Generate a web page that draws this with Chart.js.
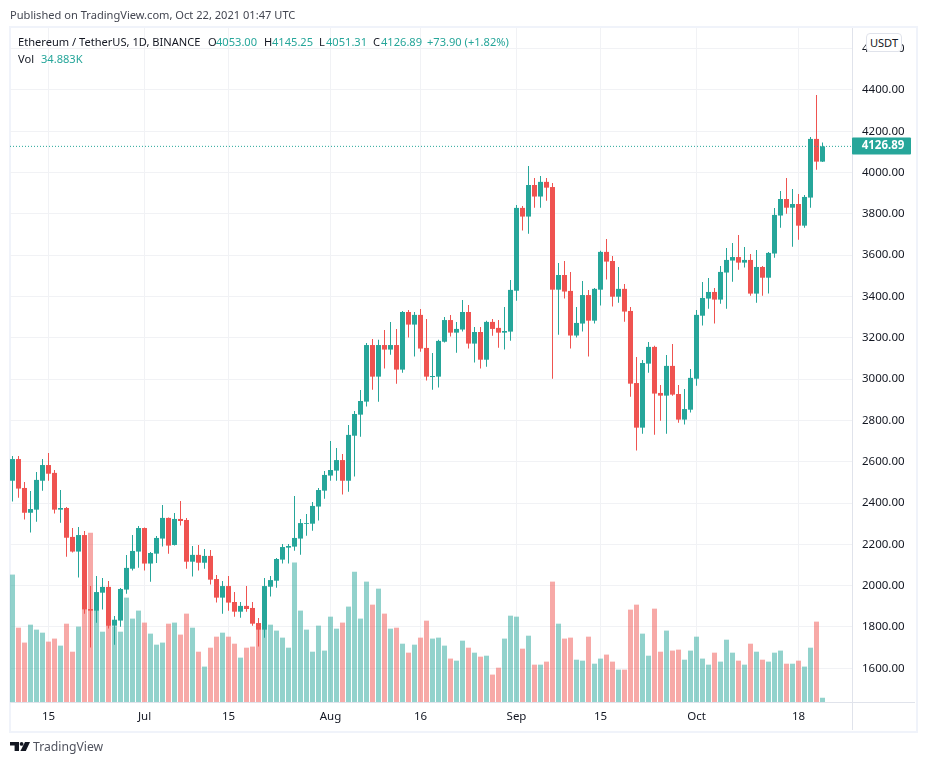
<!DOCTYPE html>
<html lang="en">
<head>
    <meta charset="UTF-8">
    <title>Ethereum / TetherUS - TradingView</title>
    <script src="https://cdn.jsdelivr.net/npm/chart.js"></script>
    <style>
        html, body { margin: 0; padding: 0; background: #fff; }
        body { width: 926px; height: 765px; position: relative; overflow: hidden; font-family: "Noto Sans", sans-serif; font-size: 11.1px; color: #434651; }
        canvas { position: absolute; left: 0; top: 0; }
        .frame { position: absolute; left: 9px; top: 26px; width: 905px; height: 703px; border: 2px solid #f0f3fa; }
        .t { position: absolute; white-space: nowrap; line-height: 16px; }
        .g { color: #26a69a; }
        .usdt { position: absolute; left: 866px; top: 33px; width: 34px; height: 17px; line-height: 17px; text-align: center; background: #fff; border: 1px solid #e0e3eb; border-radius: 4px; color: #131722; font-size: 11.1px; }
        .logo { position: absolute; left: 10px; top: 742px; }
        .brand { position: absolute; left: 33px; top: 738px; font-size: 12.2px; line-height: 18px; color: #50535e; }
    </style>
</head>
<body>
    <div class="frame"></div>
    <canvas id="ethChart" width="926" height="765"></canvas>

    <div class="t" style="left:10px;top:7px">Published on TradingView.com, Oct 22, 2021 01:47 UTC</div>
    <div class="t" style="left:18px;top:34px;color:#131722">Ethereum / TetherUS, 1D, BINANCE</div>
    <div class="t" style="left:208px;top:34px;color:#131722">O</div><div class="t g" style="left:216px;top:34px">4053.00</div>
    <div class="t" style="left:264px;top:34px;color:#131722">H</div><div class="t g" style="left:272px;top:34px">4145.25</div>
    <div class="t" style="left:319px;top:34px;color:#131722">L</div><div class="t g" style="left:326px;top:34px">4051.31</div>
    <div class="t" style="left:373px;top:34px;color:#131722">C</div><div class="t g" style="left:381px;top:34px">4126.89</div>
    <div class="t g" style="left:427px;top:34px">+73.90 (+1.82%)</div>
    <div class="t" style="left:18px;top:51px;color:#131722">Vol</div><div class="t g" style="left:41px;top:51px">34.883K</div>
    <div class="usdt">USDT</div>

    <svg class="logo" width="20" height="10" viewBox="0 0 20 10">
        <path fill="#131722" d="M0 0h9v9H4.6V3.6H0z"/>
        <circle fill="#131722" cx="11.6" cy="1.9" r="1.9"/>
        <path fill="#131722" d="M15 0h5l-4.2 9H10.4z"/>
    </svg>
    <div class="brand">TradingView</div>

    <script>
        // daily candles, Jun 9 to Oct 22 2021
        const opens = [2508,2613,2473,2353,2368,2508,2584,2546,2368,2376,2236,2165,2245,1887,1879,1966,1994,1806,1831,1981,2082,2165,2279,2107,2155,2228,2328,2197,2323,2318,2116,2149,2111,2144,2032,1942,1998,1921,1874,1902,1892,1819,1787,1995,2024,2126,2184,2189,2228,2299,2300,2383,2460,2533,2557,2608,2508,2726,2828,2891,3165,3012,3165,3143,3165,3046,3325,3264,3311,3151,3010,3012,3181,3286,3225,3240,3325,3172,3228,3094,3277,3248,3225,3230,3428,3829,3787,3940,3884,3955,3930,3433,3504,3427,3211,3269,3407,3283,3433,3616,3572,3399,3437,3330,2981,2765,3075,3156,2933,2920,3064,2928,2804,2852,3002,3307,3390,3422,3385,3516,3574,3591,3564,3577,3414,3543,3491,3608,3792,3872,3830,3848,3743,3879,4163,4053];
        const highs = [2628,2628,2502,2458,2550,2613,2642,2560,2463,2381,2279,2284,2265,1998,2047,2037,2023,1853,1989,2149,2245,2289,2282,2163,2240,2391,2330,2352,2410,2328,2192,2197,2178,2173,2052,2023,2047,1969,1921,1998,1921,1843,2037,2047,2134,2202,2202,2434,2323,2347,2405,2473,2555,2700,2667,2638,2778,2846,2947,3175,3194,3190,3238,3277,3243,3330,3335,3325,3340,3291,3127,3190,3301,3311,3277,3383,3359,3252,3252,3282,3291,3286,3349,3480,3843,3838,4032,3974,3984,3974,3950,3562,3572,3519,3349,3475,3432,3441,3621,3679,3596,3543,3461,3349,3107,3093,3180,3161,2972,3117,3170,2972,2952,3049,3335,3470,3490,3441,3548,3635,3659,3698,3640,3606,3625,3548,3616,3829,3911,3974,3921,3896,3892,4172,4376,4145.25];
        const lows = [2407,2426,2320,2257,2310,2460,2508,2349,2305,2140,2160,2039,1864,1700,1821,1884,1792,1714,1801,1961,2073,2087,2073,2019,2110,2189,2155,2194,2291,2082,2044,2073,2082,2005,1918,1864,1879,1850,1845,1874,1806,1705,1748,1947,1990,2107,2107,2169,2150,2242,2266,2315,2421,2508,2508,2441,2455,2528,2721,2867,2949,2891,3051,3118,2978,3031,3201,3109,3133,2993,2949,2959,3177,3206,3128,3230,3148,3080,3051,3060,3210,3152,3143,3186,3380,3719,3704,3830,3830,3864,3002,3215,3390,3148,3201,3230,3109,3269,3356,3482,3351,3370,3278,2915,2654,2736,3031,2731,2799,2736,2920,2789,2780,2838,2968,3259,3341,3269,3365,3341,3472,3530,3540,3404,3370,3404,3414,3588,3733,3801,3641,3675,3733,3830,4014,4051.31];
        const closes = [2613,2470,2353,2371,2512,2584,2542,2368,2376,2232,2165,2245,1884,1879,1969,1994,1806,1835,1984,2086,2168,2279,2107,2158,2231,2328,2194,2323,2313,2116,2149,2111,2144,2029,1942,1998,1918,1874,1902,1887,1816,1787,1998,2027,2129,2187,2192,2231,2303,2303,2386,2463,2536,2560,2608,2508,2730,2831,2894,3165,3012,3165,3143,3165,3046,3325,3264,3311,3148,3012,3015,3185,3286,3225,3243,3325,3172,3228,3094,3277,3243,3225,3233,3432,3829,3787,3940,3884,3955,3927,3433,3504,3424,3211,3272,3407,3283,3437,3616,3569,3399,3437,3327,2978,2765,3078,3156,2930,2920,3064,2925,2804,2855,3006,3311,3393,3422,3385,3519,3577,3591,3564,3577,3414,3543,3491,3611,3795,3872,3830,3848,3743,3882,4163,4053,4126.89];
        // volume in thousands
        const volumes = [1051,613,490,638,597,572,498,523,465,646,415,622,762,1397,844,580,762,624,580,861,688,754,655,564,473,490,646,655,556,729,613,415,292,448,539,572,539,481,366,448,457,624,638,638,589,531,448,1150,754,597,415,630,424,704,605,655,787,1075,688,993,803,935,729,605,613,481,407,473,531,671,523,531,465,358,341,506,448,407,374,382,226,283,523,712,704,440,547,308,308,333,993,646,523,531,349,341,539,316,358,391,333,267,267,762,803,564,382,770,415,589,424,432,349,424,539,358,308,407,333,514,407,341,308,481,415,349,333,407,424,316,316,341,292,448,663,35];

        const tickIndexes = [6, 22, 36, 53, 68, 84, 98, 114, 131];
        const tickLabels = ['15', 'Jul', '15', 'Aug', '16', 'Sep', '15', 'Oct', '18'];
        const priceTicks = [1600, 1800, 2000, 2200, 2400, 2600, 2800, 3000, 3200, 3400, 3600, 3800, 4000, 4200, 4400, 4600];

        const UP = '#26a69a';
        const DOWN = '#ef5350';
        const UP_VOL = 'rgba(38, 166, 154, 0.5)';
        const DOWN_VOL = 'rgba(239, 83, 80, 0.5)';
        const GRID = '#f1f2f5';
        const LINE = '#e0e3eb';
        const FONT = '"Noto Sans", sans-serif';

        const isUp = opens.map((o, i) => closes[i] >= o);
        const candleColors = isUp.map(u => u ? UP : DOWN);
        const volumeColors = isUp.map(u => u ? UP_VOL : DOWN_VOL);
        const lastClose = closes[closes.length - 1];

        // 6px per day, first candle centred on x=12.5
        const X_MIN = -2.5 / 6;
        const X_MAX = X_MIN + 842 / 6;

        // axis separators run past the plot, to the frame
        const separators = {
            id: 'separators',
            afterDraw(chart) {
                const c = chart.ctx, a = chart.chartArea;
                c.save();
                c.strokeStyle = LINE;
                c.lineWidth = 1;
                c.beginPath();
                c.moveTo(a.right + 0.5, a.top);
                c.lineTo(a.right + 0.5, 730);
                c.moveTo(a.left, a.bottom + 0.5);
                c.lineTo(915, a.bottom + 0.5);
                c.stroke();
                c.restore();
            }
        };

        // last price tag on the axis
        const priceTag = {
            id: 'priceTag',
            afterDraw(chart) {
                const c = chart.ctx, a = chart.chartArea;
                const y = chart.scales.y.getPixelForValue(lastClose);
                c.save();
                c.fillStyle = UP;
                c.beginPath();
                c.roundRect(a.right, Math.round(y) - 8.5, 59, 17, 1);
                c.fill();
                c.fillStyle = '#fff';
                c.font = 'bold 11.5px ' + FONT;
                c.textAlign = 'center';
                c.textBaseline = 'middle';
                c.fillText(lastClose.toFixed(2), a.right + 31, Math.round(y));
                c.restore();
            }
        };

        new Chart(document.getElementById('ethChart'), {
            data: {
                datasets: [
                    {
                        type: 'line',
                        order: 0,
                        data: [{ x: X_MIN, y: lastClose }, { x: X_MAX, y: lastClose }],
                        borderColor: UP,
                        borderWidth: 1,
                        borderDash: [1, 2],
                        pointRadius: 0
                    },
                    {
                        type: 'bar',
                        order: 1,
                        grouped: false,
                        barThickness: 5,
                        maxBarThickness: 5,
                        inflateAmount: 0,
                        data: opens.map((o, i) => ({ x: i, y: [o, closes[i]] })),
                        backgroundColor: candleColors
                    },
                    {
                        type: 'bar',
                        order: 2,
                        grouped: false,
                        barThickness: 1,
                        maxBarThickness: 1,
                        inflateAmount: 0,
                        data: lows.map((l, i) => ({ x: i, y: [l, highs[i]] })),
                        backgroundColor: candleColors
                    },
                    {
                        type: 'bar',
                        order: 3,
                        grouped: false,
                        barThickness: 5,
                        maxBarThickness: 5,
                        inflateAmount: 0,
                        yAxisID: 'yVol',
                        data: volumes.map((v, i) => ({ x: i, y: v })),
                        backgroundColor: volumeColors
                    }
                ]
            },
            options: {
                responsive: false,
                animation: false,
                layout: { padding: { left: 10, top: 28, right: 10, bottom: 35 } },
                plugins: { legend: { display: false }, tooltip: { enabled: false } },
                scales: {
                    x: {
                        type: 'linear',
                        offset: false,
                        min: X_MIN,
                        max: X_MAX,
                        afterBuildTicks: s => { s.ticks = tickIndexes.map(v => ({ value: v })); },
                        afterFit: s => { s.height = 28; s.paddingLeft = 0; s.paddingRight = 0; },
                        grid: { color: GRID, drawTicks: false, offset: false },
                        border: { display: false },
                        ticks: {
                            autoSkip: false,
                            maxRotation: 0,
                            padding: 8,
                            color: '#131722',
                            font: { family: FONT, size: 11.5 },
                            callback: v => tickLabels[tickIndexes.indexOf(v)]
                        }
                    },
                    y: {
                        position: 'right',
                        min: 1436.7,
                        max: 4700,
                        afterBuildTicks: s => { s.ticks = priceTicks.map(v => ({ value: v })); },
                        afterFit: s => { s.width = 64; s.paddingTop = 0; s.paddingBottom = 0; },
                        grid: { color: GRID, drawTicks: false },
                        border: { display: false },
                        ticks: {
                            padding: 10,
                            color: '#131722',
                            font: { family: FONT, size: 11.5 },
                            callback: v => v.toFixed(2)
                        }
                    },
                    yVol: {
                        display: false,
                        min: 0,
                        max: 5560
                    }
                }
            },
            plugins: [separators, priceTag]
        });
    </script>
</body>
</html>
